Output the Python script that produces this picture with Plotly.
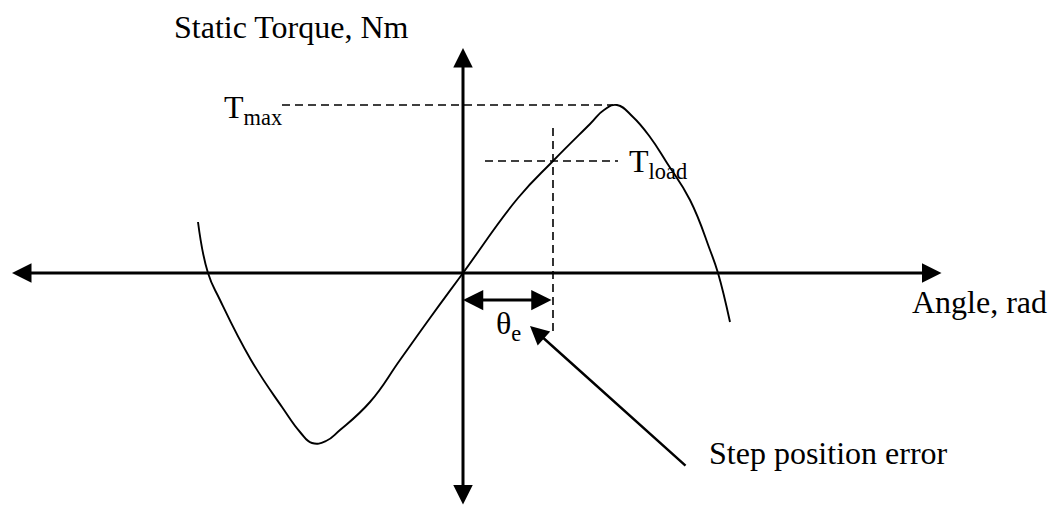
import plotly.graph_objects as go

# Static torque curve (angle, torque) in diagram units
angle_pts = [-265, -255, -243, -212, -181, -163, -151, -137, -123, -93, -63, -33, 0,
             55, 90, 127, 141, 154, 170, 187, 204, 227, 247, 255, 267]
torque_pts = [51, 0, -27, -87, -134, -159, -170, -168, -157, -129, -87, -45, 0,
              75, 112, 149, 163, 168, 156, 136, 110, 73, 23, 0, -49]

T_MAX = 168
T_LOAD = 112
THETA_E = 90

FONT = "Liberation Serif"
FS = 32

fig = go.Figure()

fig.add_trace(go.Scatter(x=angle_pts, y=torque_pts, mode="lines",
                         line=dict(color="black", width=1.9, shape="spline", smoothing=1.3),
                         hoverinfo="skip"))

dash = "8px,5px"
# T_max dashed line
fig.add_trace(go.Scatter(x=[-181, 150], y=[T_MAX, T_MAX], mode="lines",
                         line=dict(color="black", width=1.6, dash=dash), hoverinfo="skip"))
# T_load dashed line
fig.add_trace(go.Scatter(x=[22, 155], y=[T_LOAD, T_LOAD], mode="lines",
                         line=dict(color="black", width=1.6, dash=dash), hoverinfo="skip"))
# vertical dashed line at theta_e
fig.add_trace(go.Scatter(x=[THETA_E, THETA_E], y=[145, -59], mode="lines",
                         line=dict(color="black", width=1.6, dash=dash), hoverinfo="skip"))

ann = []
def arrow(x, y, ax, ay, width, size, both=False):
    ann.append(dict(x=x, y=y, ax=ax, ay=ay, xref="x", yref="y", axref="x", ayref="y",
                    text="", showarrow=True, arrowhead=2, startarrowhead=2,
                    arrowsize=size, startarrowsize=size, arrowwidth=width,
                    arrowcolor="black", arrowside="end+start" if both else "end",
                    standoff=0, startstandoff=0))

# axes
arrow(-451, 0, 480, 0, 3, 1.3, both=True)
arrow(0, 225, 0, -233, 3, 1.3, both=True)
# theta_e double arrow
arrow(0, -27, THETA_E, -27, 3, 1.35, both=True)
# step position error pointer
arrow(67, -53, 224, -194, 2.5, 1.5)

def text(t, x, y, xanchor="left", size=FS):
    ann.append(dict(x=x, y=y, xref="x", yref="y", text=t, showarrow=False,
                    xanchor=xanchor, yanchor="middle",
                    font=dict(family=FONT, size=size, color="black")))

SUBSTYLE = "font-family:'Liberation Serif'"
text("Static Torque, Nm", -291, 246)
text(f"T<sub><span style=\"{SUBSTYLE}\">max</span></sub>", -241, 164)
text(f"T<sub><span style=\"{SUBSTYLE}\">load</span></sub>", 164, 110)
text(f"θ<sub><span style=\"{SUBSTYLE}\">e</span></sub>", 31, -52)
text("Angle, rad", 447, -29)
text("Step position error", 244, -180)

fig.update_layout(
    width=1058, height=508,
    margin=dict(l=0, r=0, t=0, b=0),
    paper_bgcolor="white", plot_bgcolor="white",
    showlegend=False,
    xaxis=dict(range=[-463, 595], visible=False, fixedrange=True),
    yaxis=dict(range=[-235, 273], visible=False, fixedrange=True),
    annotations=ann,
)

fig.write_html("out.html", config={"displayModeBar": False},
               post_script="document.body.style.margin='0';")
